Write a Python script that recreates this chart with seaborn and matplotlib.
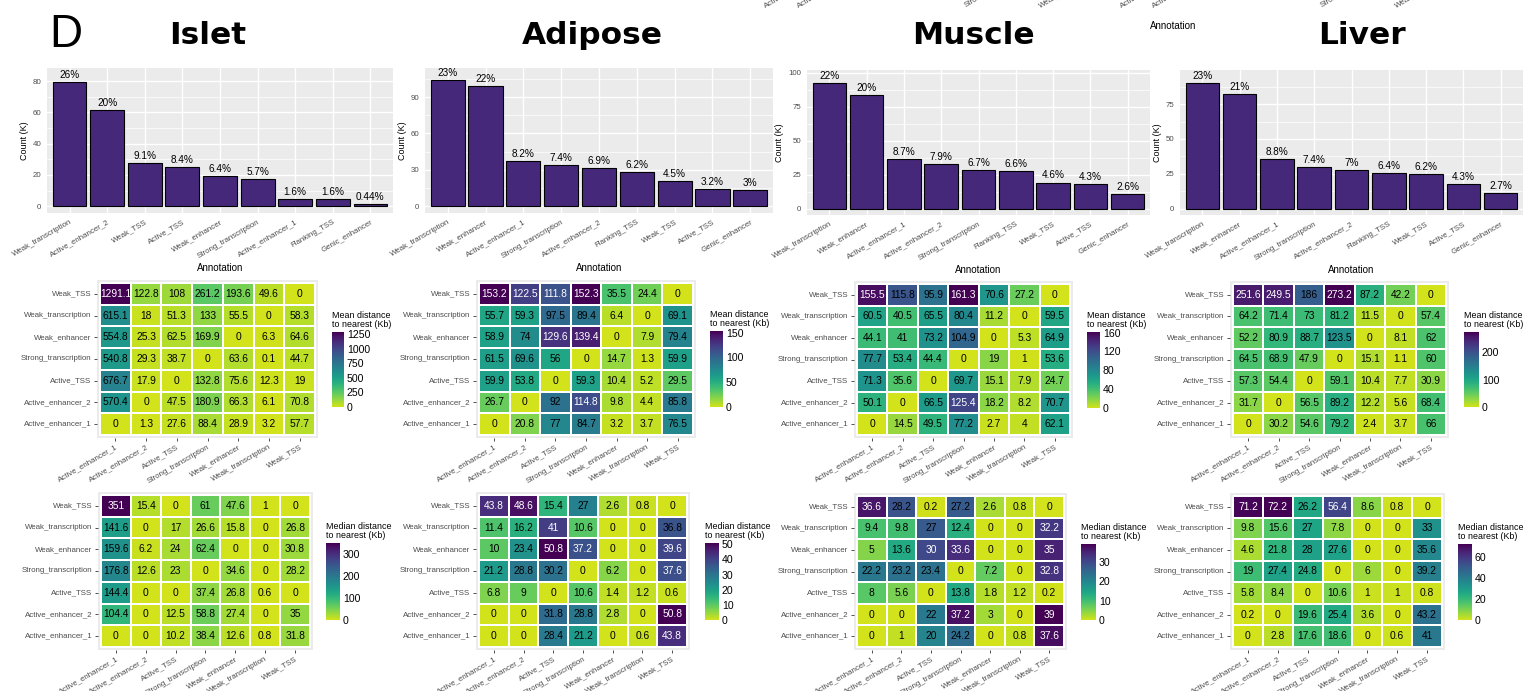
import numpy as np
import pandas as pd
import matplotlib
matplotlib.use("Agg")
import matplotlib.pyplot as plt
from matplotlib.ticker import MultipleLocator
from matplotlib.colors import LinearSegmentedColormap
import seaborn as sns

# ---------------- data ----------------
islet_cats = ["Weak_transcription", "Active_enhancer_2", "Weak_TSS", "Active_TSS",
              "Weak_enhancer", "Strong_transcription", "Active_enhancer_1",
              "Flanking_TSS", "Genic_enhancer"]
islet_counts = [79.5, 61.3, 27.5, 25.3, 19.3, 17.2, 4.8, 4.8, 1.4]
islet_pct = ["26%", "20%", "9.1%", "8.4%", "6.4%", "5.7%", "1.6%", "1.6%", "0.44%"]

adipose_cats = ["Weak_transcription", "Weak_enhancer", "Active_enhancer_1",
                "Strong_transcription", "Active_enhancer_2", "Flanking_TSS",
                "Weak_TSS", "Active_TSS", "Genic_enhancer"]
adipose_counts = [103.7, 99.1, 37.3, 34.0, 31.6, 28.3, 20.6, 14.5, 13.4]
adipose_pct = ["23%", "22%", "8.2%", "7.4%", "6.9%", "6.2%", "4.5%", "3.2%", "3%"]

muscle_cats = ["Weak_transcription", "Weak_enhancer", "Active_enhancer_1",
               "Active_enhancer_2", "Strong_transcription", "Flanking_TSS",
               "Weak_TSS", "Active_TSS", "Genic_enhancer"]
muscle_counts = [92.6, 83.3, 36.5, 32.8, 28.1, 27.8, 19.2, 18.2, 10.8]
muscle_pct = ["22%", "20%", "8.7%", "7.9%", "6.7%", "6.6%", "4.6%", "4.3%", "2.6%"]

liver_cats = ["Weak_transcription", "Weak_enhancer", "Active_enhancer_1",
              "Strong_transcription", "Active_enhancer_2", "Flanking_TSS",
              "Weak_TSS", "Active_TSS", "Genic_enhancer"]
liver_counts = [90.1, 82.5, 35.3, 30.0, 27.9, 25.5, 24.8, 17.5, 11.1]
liver_pct = ["23%", "21%", "8.8%", "7.4%", "7%", "6.4%", "6.2%", "4.3%", "2.7%"]

# heatmap axes: rows listed top to bottom, columns left to right
hm_rows = ["Weak_TSS", "Weak_transcription", "Weak_enhancer", "Strong_transcription",
           "Active_TSS", "Active_enhancer_2", "Active_enhancer_1"]
hm_cols = ["Active_enhancer_1", "Active_enhancer_2", "Active_TSS", "Strong_transcription",
           "Weak_enhancer", "Weak_transcription", "Weak_TSS"]

islet_mean = [
    [1291.1, 122.8, 108, 261.2, 193.6, 49.6, 0],
    [615.1, 18, 51.3, 133, 55.5, 0, 58.3],
    [554.8, 25.3, 62.5, 169.9, 0, 6.3, 64.6],
    [540.8, 29.3, 38.7, 0, 63.6, 0.1, 44.7],
    [676.7, 17.9, 0, 132.8, 75.6, 12.3, 19],
    [570.4, 0, 47.5, 180.9, 66.3, 6.1, 70.8],
    [0, 1.3, 27.6, 88.4, 28.9, 3.2, 57.7],
]
adipose_mean = [
    [153.2, 122.5, 111.8, 152.3, 35.5, 24.4, 0],
    [55.7, 59.3, 97.5, 89.4, 6.4, 0, 69.1],
    [58.9, 74, 129.6, 139.4, 0, 7.9, 79.4],
    [61.5, 69.6, 56, 0, 14.7, 1.3, 59.9],
    [59.9, 53.8, 0, 59.3, 10.4, 5.2, 29.5],
    [26.7, 0, 92, 114.8, 9.8, 4.4, 85.8],
    [0, 20.8, 77, 84.7, 3.2, 3.7, 76.5],
]
muscle_mean = [
    [155.5, 115.8, 95.9, 161.3, 70.6, 27.2, 0],
    [60.5, 40.5, 65.5, 80.4, 11.2, 0, 59.5],
    [44.1, 41, 73.2, 104.9, 0, 5.3, 64.9],
    [77.7, 53.4, 44.4, 0, 19, 1, 53.6],
    [71.3, 35.6, 0, 69.7, 15.1, 7.9, 24.7],
    [50.1, 0, 66.5, 125.4, 18.2, 8.2, 70.7],
    [0, 14.5, 49.5, 77.2, 2.7, 4, 62.1],
]
liver_mean = [
    [251.6, 249.5, 186, 273.2, 87.2, 42.2, 0],
    [64.2, 71.4, 73, 81.2, 11.5, 0, 57.4],
    [52.2, 80.9, 88.7, 123.5, 0, 8.1, 62],
    [64.5, 68.9, 47.9, 0, 15.1, 1.1, 60],
    [57.3, 54.4, 0, 59.1, 10.4, 7.7, 30.9],
    [31.7, 0, 56.5, 89.2, 12.2, 5.6, 68.4],
    [0, 30.2, 54.6, 79.2, 2.4, 3.7, 66],
]
islet_median = [
    [351, 15.4, 0, 61, 47.6, 1, 0],
    [141.6, 0, 17, 26.6, 15.8, 0, 26.8],
    [159.6, 6.2, 24, 62.4, 0, 0, 30.8],
    [176.8, 12.6, 23, 0, 34.6, 0, 28.2],
    [144.4, 0, 0, 37.4, 26.8, 0.6, 0],
    [104.4, 0, 12.5, 58.8, 27.4, 0, 35],
    [0, 0, 10.2, 38.4, 12.6, 0.8, 31.8],
]
adipose_median = [
    [43.8, 48.6, 15.4, 27, 2.6, 0.8, 0],
    [11.4, 16.2, 41, 10.6, 0, 0, 36.8],
    [10, 23.4, 50.8, 37.2, 0, 0, 39.6],
    [21.2, 28.8, 30.2, 0, 6.2, 0, 37.6],
    [6.8, 9, 0, 10.6, 1.4, 1.2, 0.6],
    [0, 0, 31.8, 28.8, 2.8, 0, 50.8],
    [0, 0, 28.4, 21.2, 0, 0.6, 43.8],
]
muscle_median = [
    [36.6, 28.2, 0.2, 27.2, 2.6, 0.8, 0],
    [9.4, 9.8, 27, 12.4, 0, 0, 32.2],
    [5, 13.6, 30, 33.6, 0, 0, 35],
    [22.2, 23.2, 23.4, 0, 7.2, 0, 32.8],
    [8, 5.6, 0, 13.8, 1.8, 1.2, 0.2],
    [0, 0, 22, 37.2, 3, 0, 39],
    [0, 1, 20, 24.2, 0, 0.8, 37.6],
]
liver_median = [
    [71.2, 72.2, 26.2, 56.4, 8.6, 0.8, 0],
    [9.8, 15.6, 27, 7.8, 0, 0, 33],
    [4.6, 21.8, 28, 27.6, 0, 0, 35.6],
    [19, 27.4, 24.8, 0, 6, 0, 39.2],
    [5.8, 8.4, 0, 10.6, 1, 1, 0.8],
    [0.2, 0, 19.6, 25.4, 3.6, 0, 43.2],
    [0, 2.8, 17.6, 18.6, 0, 0.6, 41],
]

tissues = ["Islet", "Adipose", "Muscle", "Liver"]
mean_ticks = [[0, 250, 500, 750, 1000, 1250], [0, 50, 100, 150],
              [0, 40, 80, 120, 160], [0, 100, 200]]
median_ticks = [[0, 100, 200, 300], [0, 10, 20, 30, 40, 50],
                [0, 10, 20, 30], [0, 20, 40, 60]]

# ---------------- style ----------------
sns.set_style("darkgrid", {"axes.facecolor": "#EBEBEB", "grid.color": "white"})
plt.rcParams["font.family"] = ["Liberation Sans", "DejaVu Sans"]
plt.rcParams["text.color"] = "black"
plt.rcParams["axes.labelcolor"] = "black"

W, H = 1525, 691
fig = plt.figure(figsize=(W / 100, H / 100), dpi=100)
fig.patch.set_facecolor("white")


def box(x0, y0, x1, y1):
    return [x0 / W, 1 - y1 / H, (x1 - x0) / W, (y1 - y0) / H]


BAR_FILL = "#46287A"
TXT_GRAY = "#4D4D4D"
TICK_GRAY = "#333333"

# reversed viridis, stopping short of the brightest yellow
_vir = plt.get_cmap("viridis")
heat_cmap = LinearSegmentedColormap.from_list(
    "vir_r", [_vir(v) for v in np.linspace(0.93, 0.0, 256)])

# ---------------- bar panels ----------------
bar_sets = [
    (islet_cats, islet_counts, islet_pct, (47, 68, 393, 213), (-4.4, 88.5), 20),
    (adipose_cats, adipose_counts, adipose_pct, (425, 68, 773, 213), (-5.5, 113.9), 30),
    (muscle_cats, muscle_counts, muscle_pct, (807, 70, 1150, 215), (-4.7, 102.0), 25),
    (liver_cats, liver_counts, liver_pct, (1180, 70, 1523, 215), (-4.6, 99.5), 25),
]

for cats, counts, pct, bx, ylim, step in bar_sets:
    ax = fig.add_axes(box(*bx))
    df = pd.DataFrame({"Annotation": cats, "Count": counts})
    sns.barplot(data=df, x="Annotation", y="Count", order=cats, color=BAR_FILL,
                saturation=1, edgecolor="black", linewidth=0.8, width=0.9, ax=ax)
    for i, (c, p) in enumerate(zip(counts, pct)):
        ax.annotate(p, (i, c), xytext=(0, 1.5), textcoords="offset points",
                    ha="center", va="bottom", fontsize=7.2, color="black")
    ax.set_xlim(-0.6, len(cats) - 0.4)
    ax.set_ylim(*ylim)
    ax.yaxis.set_major_locator(MultipleLocator(step))
    ax.yaxis.set_minor_locator(MultipleLocator(step / 2))
    ax.grid(which="major", color="white", linewidth=1.0)
    ax.grid(which="minor", axis="y", color="white", linewidth=0.5)
    ax.set_axisbelow(True)
    for s in ax.spines.values():
        s.set_visible(False)
    ax.tick_params(which="major", length=2.5, width=0.6, color=TICK_GRAY,
                   labelsize=5.7, labelcolor=TXT_GRAY, pad=1.5)
    ax.tick_params(which="minor", length=0)
    plt.setp(ax.get_xticklabels(), rotation=30, ha="right", rotation_mode="anchor")
    ax.set_xlabel("Annotation", fontsize=7, labelpad=2, color="black")
    ax.set_ylabel("Count (K)", fontsize=6.5, labelpad=3, color="black")

# ---------------- heatmap panels ----------------
mean_boxes = [(100, 283, 315, 435), (479, 283, 693, 435),
              (857, 284, 1070, 435), (1233, 284, 1446, 435)]
median_boxes = [(101, 495, 310, 647), (479, 495, 687, 647),
                (857, 496, 1064, 647), (1233, 496, 1442, 647)]
mean_cbars = [(332, 332, 344, 407), (710, 331, 723, 407),
              (1087, 332, 1100, 408), (1464, 332, 1479, 407)]
median_cbars = [(326, 543, 340, 620), (705, 543, 719, 620),
                (1081, 544, 1096, 620), (1458, 544, 1472, 620)]


def fmt(v):
    return f"{v:g}"


def draw_heat(values, cell_box, cbar_box, ticks, title):
    vals = np.array(values, dtype=float)
    df = pd.DataFrame(vals, index=hm_rows, columns=hm_cols)
    x0, y0, x1, y1 = cell_box
    m = 3
    ax = fig.add_axes(box(x0 - m, y0 - m, x1 + m, y1 + m))
    cax = fig.add_axes(box(*cbar_box))
    vmax = vals.max()
    labels = np.vectorize(fmt)(vals)
    sns.heatmap(df, ax=ax, cmap=heat_cmap, vmin=0, vmax=vmax, annot=labels, fmt="",
                linewidths=1.1, linecolor="white", cbar_ax=cax,
                annot_kws={"fontsize": 7.4})
    for t, v in zip(ax.texts, vals.ravel()):
        t.set_color("white" if v / vmax >= 0.725 else "black")
    cw = (x1 - x0) / 7
    ch = (y1 - y0) / 7
    ax.set_xlim(-m / cw, 7 + m / cw)
    ax.set_ylim(7 + m / ch, -m / ch)
    ax.set_facecolor("#EBEBEB")
    ax.grid(False)
    ax.set_xlabel("")
    ax.set_ylabel("")
    ax.tick_params(length=2.5, width=0.6, color=TICK_GRAY, labelsize=5.7,
                   labelcolor=TXT_GRAY, pad=1.5, left=True, bottom=True)
    plt.setp(ax.get_xticklabels(), rotation=30, ha="right", rotation_mode="anchor")
    plt.setp(ax.get_yticklabels(), rotation=0)

    cbar = ax.collections[0].colorbar
    cbar.outline.set_visible(False)
    cbar.set_ticks(ticks)
    cax.grid(False)
    cax.tick_params(axis="y", which="both", direction="in", length=2.5, width=0.8,
                    color="white", labelcolor="black", left=True, right=True,
                    labelleft=False, labelright=True, labelsize=7.6, pad=2)
    cx0, cy0 = cbar_box[0], cbar_box[1]
    fig.text(cx0 / W, 1 - (cy0 - 3) / H, title, ha="left", va="bottom",
             fontsize=6.4, color="black", linespacing=1.0)


for i in range(4):
    mv = [islet_mean, adipose_mean, muscle_mean, liver_mean][i]
    dv = [islet_median, adipose_median, muscle_median, liver_median][i]
    draw_heat(mv, mean_boxes[i], mean_cbars[i], mean_ticks[i],
              "Mean distance\nto nearest (Kb)")
    draw_heat(dv, median_boxes[i], median_cbars[i], median_ticks[i],
              "Median distance\nto nearest (Kb)")

# ---------------- titles ----------------
title_x = [208, 592, 973, 1362]
for name, tx in zip(tissues, title_x):
    fig.text(tx / W, 1 - 35 / H, name, ha="center", va="center", color="black",
             fontsize=22.5, fontweight="bold", family="DejaVu Sans")
fig.text(49 / W, 1 - 47 / H, "D", ha="left", va="baseline", fontsize=33,
         family="Liberation Sans", color="black")

# stray labels along the top edge
fig.text(1150 / W, 1 - 26 / H, "Annotation", ha="left", va="center", fontsize=7,
         color="black")
edge_labels = [("Active_enhancer_1", 765), ("Active_enhancer_2", 798),
               ("Strong_transcription", 966), ("Weak_enhancer", 1040),
               ("Active_enhancer_1", 1121), ("Active_enhancer_2", 1153),
               ("Strong_transcription", 1322), ("Weak_enhancer", 1396)]
for lab, ex in edge_labels:
    fig.text(ex / W, 1 - 7.5 / H, lab, rotation=30, rotation_mode="anchor",
             ha="left", va="baseline", fontsize=5.7, color=TXT_GRAY)

fig.savefig("out.png", dpi=100)
